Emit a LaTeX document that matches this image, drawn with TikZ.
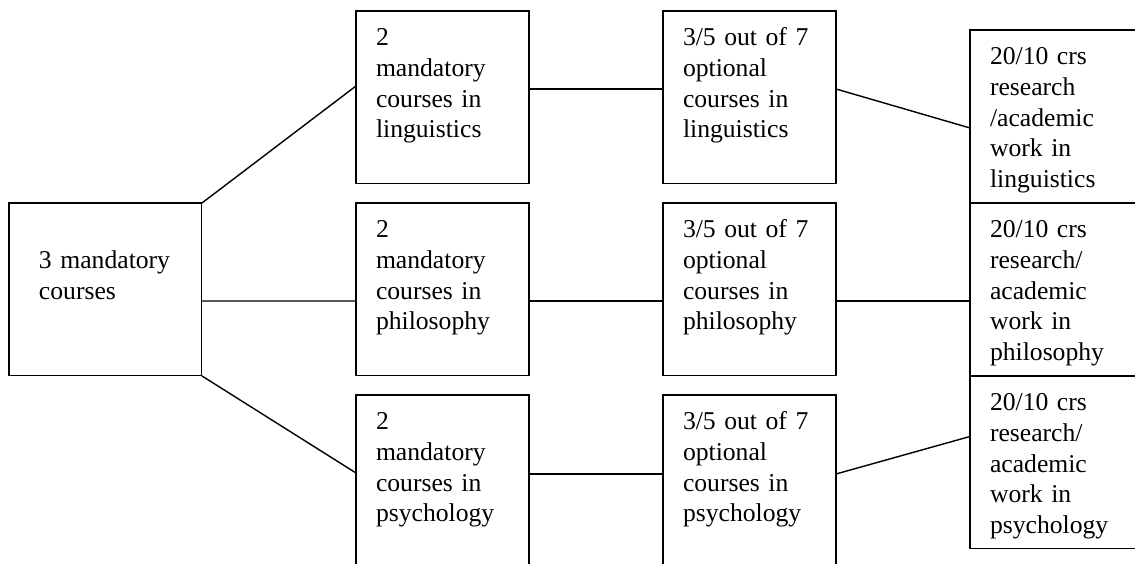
\documentclass[tikz,border=0pt]{standalone}
\usepackage{fontspec}
\setmainfont{Liberation Serif}

\begin{document}
\begin{tikzpicture}[x=0.02cm,y=-0.02cm,
    every node/.style={font=\fontsize{14.6pt}{17.4pt}\selectfont},
    crsbox/.style={draw,line width=0.6pt,anchor=north west,outer sep=0pt,
      inner xsep=0.4cm,inner ysep=0pt,text width=2.66cm,align=left,
      text height=0.7cm,text depth=2.76cm},
    link/.style={line width=0.8pt}]
          \useasboundingbox (0,0) rectangle (1135,564);
          \clip (0,0) rectangle (1135,564);
          \coordinate (q0) at (9,203);
          \coordinate (q1) at (356,11);
          \coordinate (q2) at (356,203);
          \coordinate (q3) at (356,395);
          \coordinate (q4) at (663,11);
          \coordinate (q5) at (663,203);
          \coordinate (q6) at (663,395);
          \coordinate (q7) at (970,30);
          \coordinate (q8) at (970,203);
          \coordinate (q9) at (970,376);
          % common part
          \node[crsbox,inner xsep=0.6cm,text height=1.32cm,text depth=2.14cm] (core) at (q0)
                {\mbox{3 mandatory}\\courses};
          % mandatory per subject
          \node[crsbox] (ling2) at (q1) {2\\mandatory\\courses in\\linguistics};
          \node[crsbox] (phil2) at (q2) {2\\mandatory\\courses in\\philosophy};
          \node[crsbox] (psy2)  at (q3) {2\\mandatory\\courses in\\psychology};
          % optional per subject
          \node[crsbox] (ling3) at (q4) {3/5 out of 7\\optional\\courses in\\linguistics};
          \node[crsbox] (phil3) at (q5) {3/5 out of 7\\optional\\courses in\\philosophy};
          \node[crsbox] (psy3)  at (q6) {3/5 out of 7\\optional\\courses in\\psychology};
          % research work
          \node[crsbox] (ling4) at (q7) {20/10 crs\\research\\/academic\\work in\\linguistics};
          \node[crsbox] (phil4) at (q8) {20/10 crs\\research/\\academic\\work in\\philosophy};
          \node[crsbox] (psy4)  at (q9) {20/10 crs\\research/\\academic\\work in\\psychology};
        \draw[link] (core.north east) -- ([yshift=0.23cm]ling2.west);
        \draw[link] ([yshift=-0.23cm]core.east) -- ([yshift=-0.23cm]phil2.west);
        \draw[link] (core.south east) -- ([yshift=0.17cm]psy2.west);
        \draw[link] ([yshift=0.17cm]ling2.east) -- ([yshift=0.17cm]ling3.west);
        \draw[link] ([yshift=-0.23cm]phil2.east) -- ([yshift=-0.23cm]phil3.west);
        \draw[link] ([yshift=0.15cm]psy2.east) -- ([yshift=0.15cm]psy3.west);
        \draw[link] ([yshift=0.17cm]ling3.east) -- ([yshift=-0.23cm]ling4.west);
        \draw[link] ([yshift=-0.23cm]phil3.east) -- ([yshift=-0.23cm]phil4.west);
        \draw[link] ([yshift=0.15cm]psy3.east) -- ([yshift=0.52cm]psy4.west);
        \end{tikzpicture}
\end{document}
